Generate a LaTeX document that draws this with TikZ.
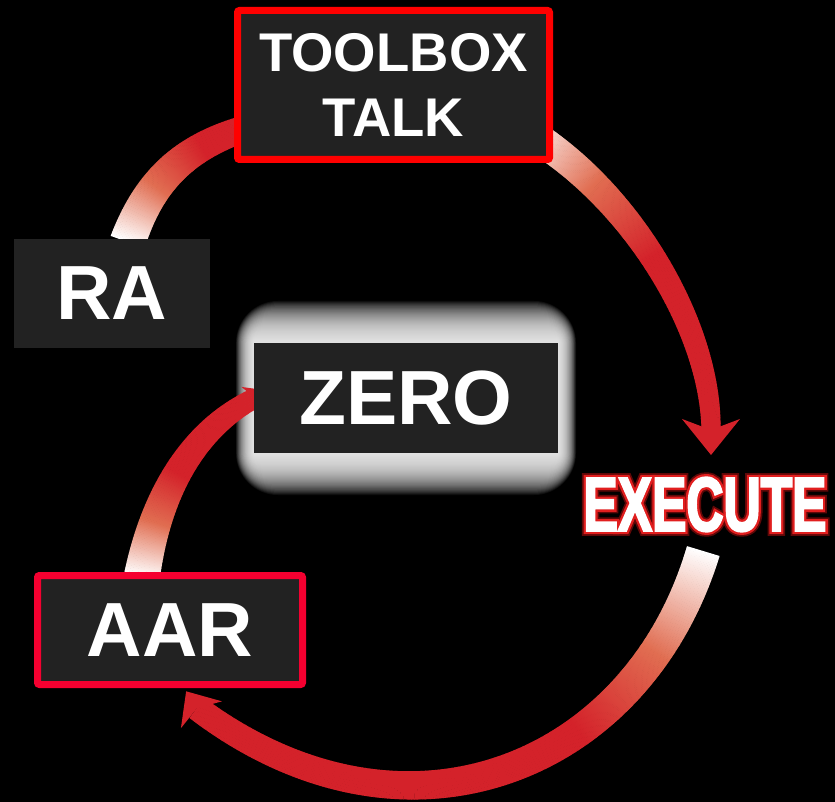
\documentclass[tikz,border=0pt]{standalone}
\usepackage{fontspec}
\setmainfont{Liberation Sans}
\newfontfamily\exfontw{Liberation Sans Bold}[FakeStretch=0.67, FakeBold=2.5]
\newfontfamily\exfontr{Liberation Sans Bold}[FakeStretch=0.67, FakeBold=8.5]
\newfontfamily\exfonth{Liberation Sans Bold}[FakeStretch=0.67, FakeBold=13]
\usetikzlibrary{positioning}
\usetikzlibrary{decorations.markings}
\definecolor{boxc}{RGB}{34,34,34}
\definecolor{ttred}{RGB}{255,0,0}
\definecolor{aarred}{RGB}{245,0,48}
\definecolor{arrowred}{RGB}{212,34,42}
\definecolor{arrowmid}{RGB}{225,110,82}
\definecolor{execred}{RGB}{225,30,30}
\definecolor{exechalo}{RGB}{95,8,8}
\newcommand{\boxfont}{\bfseries\fontsize{76.8}{80}\selectfont}
\newcommand{\tbfont}{\bfseries\fontsize{54.5}{65}\selectfont}
\pgfdeclarelayer{glow}
\pgfdeclarelayer{bg}
\pgfsetlayers{glow,bg,main}

% one slice of a band: #1 ramp, #2 start width, #3 end width
\newcommand{\flowpiece}[3]{%
	\pgfmathsetmacro{\flowfr}{\pgfkeysvalueof{/pgf/decoration/mark info/distance from start}/\pgfdecoratedpathlength}%
	\pgfmathsetmacro{\flowpa}{min(100,200*\flowfr/#1)}%
	\pgfmathsetmacro{\flowpb}{min(100,max(0,200*\flowfr/#1-100))}%
	\pgfmathsetmacro{\flowhw}{(#2+(#3-#2)*\flowfr)/2}%
	\colorlet{bandc}{arrowmid!\flowpa!white}%
	\colorlet{bandc}{arrowred!\flowpb!bandc}%
	\fill[bandc] (-1pt,-\flowhw pt) rectangle (1pt,\flowhw pt);%
}
\tikzset{
	flow/.style n args={3}{postaction={decorate, decoration={markings,
		mark=between positions 0 and 1 step 1.5pt with {\flowpiece{#1}{#2}{#3}}}}},
	flow head/.style n args={4}{postaction={decorate, decoration={markings,
		mark=at position 0.9999 with {\fill[arrowred, rotate=#4] (#1pt,0pt) -- (-#2pt,#3pt) -- (0pt,0pt) -- (-#2pt,-#3pt) -- cycle;}}}}
}

\begin{document}
\begin{tikzpicture}[x=1pt, y=1pt]
		\useasboundingbox (0,0) rectangle (835,-802);
		\tikzstyle{box}=[rectangle, fill=boxc, text=white, inner sep=0pt, outer sep=0pt]
		\tikzstyle{red box}=[box, draw=ttred, line width=7pt, rounded corners=2pt]
		\tikzstyle{exec}=[inner sep=0pt]

		\node[red box, minimum width=312pt, minimum height=149pt, font=\tbfont, align=center] (TT) at (393.5,-85) {TOOLBOX\\TALK};
		\node[box, minimum width=196pt, minimum height=109pt, font=\boxfont] (RA) at (112,-293.5) {RA};
		\node[box, minimum width=304pt, minimum height=110pt, font=\boxfont] (ZR) at (406,-398) {ZERO};
		\node[red box, draw=aarred, minimum width=265pt, minimum height=109pt, font=\boxfont] (AAR) at (170,-630) {AAR};

		% EXECUTE with red rim
		\node[exec, text=exechalo, font=\exfonth\fontsize{76.8}{80}\selectfont] (EXh) at (705,-504.5) {EXECUTE};
		\node[exec, text=execred, font=\exfontr\fontsize{76.8}{80}\selectfont] (EXr) at (EXh) {EXECUTE};
		\node[exec, text=white, font=\exfontw\fontsize{76.8}{80}\selectfont] (EX) at (EXh) {EXECUTE};

		% ghost ends of the arrows
		\coordinate (g1s) at (520,-128);
		\coordinate (g1e) at (711,-430);
		\coordinate (g2s) at (703,-552);
		\coordinate (g2e) at (197,-708);
		\coordinate (g3s) at (142,-576);
		\coordinate (g3e) at (255,-398);
		\coordinate (g4s) at (128,-241);
		\coordinate (g4e) at (250,-127);

		\begin{pgfonlayer}{glow}
			\fill[black] (0,0) rectangle (835,-802);
			\foreach \k [evaluate=\k as \dx using 0.45*\k, evaluate=\k as \dy using 1.05*\k] in {1,...,40}
				\fill[white, opacity=0.06, rounded corners=\dy pt]
					([xshift=-\dx pt, yshift=-\dy pt]ZR.south west) rectangle ([xshift=\dx pt, yshift=\dy pt]ZR.north east);
		\end{pgfonlayer}

		\begin{pgfonlayer}{bg}
			% Cycle arrows
			\path[flow={0.5}{32}{19}, flow head={25}{11}{29}{0}] (g1s) .. controls +(105,-58) and +(0,107) .. (g1e);
			\path[flow={0.35}{34}{25}, flow head={20}{8}{24.5}{-20}] (g2s) .. controls +(-66,-218) and +(208,-156) .. (g2e);
			\path[flow={0.5}{36}{20}, flow head={16}{7}{16}{0}] (g3s) .. controls +(15,87) and +(-59,-30) .. (g3e);
			\path[flow={0.7}{36}{26}] (g4s) .. controls +(22,62) and +(-64,-19) .. (g4e);
		\end{pgfonlayer}
\end{tikzpicture}
\end{document}
